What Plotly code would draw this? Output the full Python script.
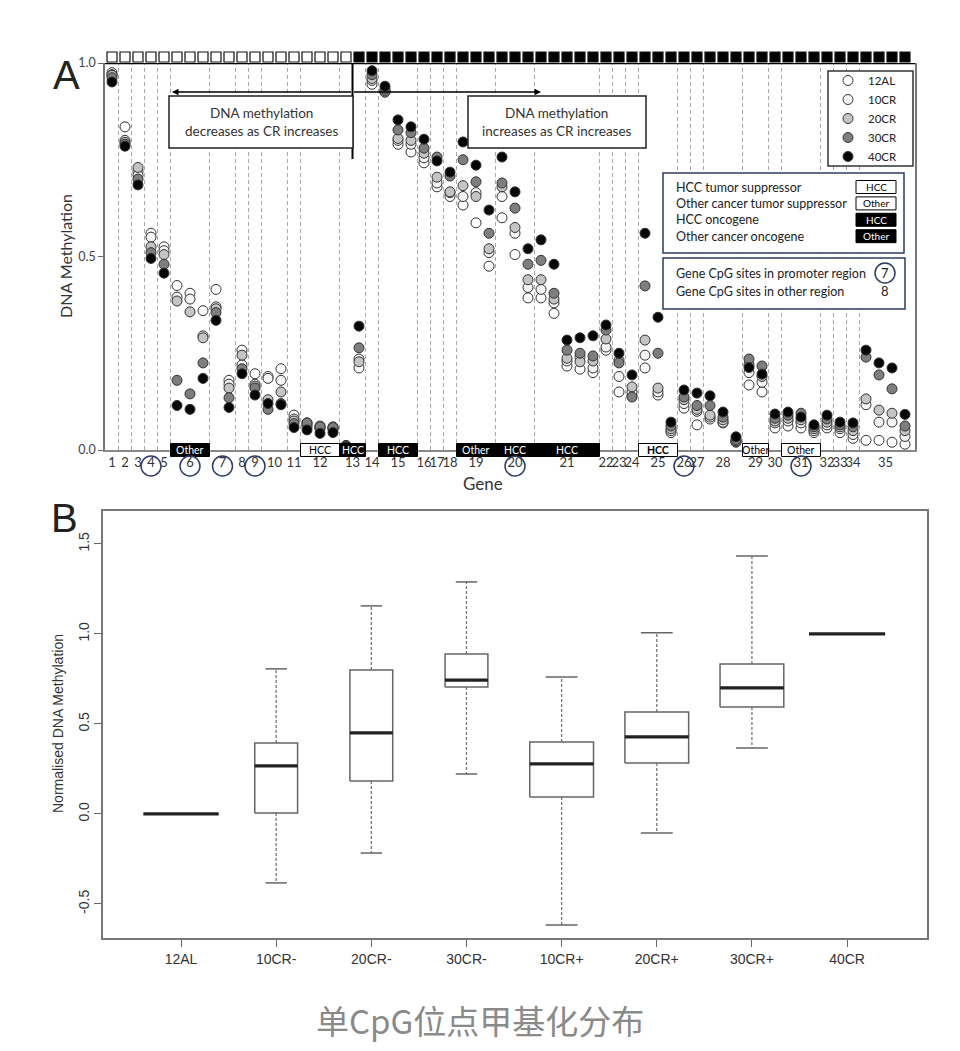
import plotly.graph_objects as go

W, H = 960, 1051

# ---------------- Panel A: methylation of each CpG site, per diet group ----------------
meth_12AL = [0.975, 0.835, 0.72, 0.56, 0.525, 0.425, 0.405, 0.36, 0.415, 0.18,
             0.258, 0.197, 0.19, 0.21, 0.09, 0.07, 0.062, 0.06, 0.012, 0.212,
             0.945, 0.925, 0.79, 0.77, 0.742, 0.68, 0.655, 0.633, 0.587, 0.475,
             0.60, 0.505, 0.393, 0.393, 0.353, 0.217, 0.209, 0.20, 0.258, 0.15,
             0.14, 0.212, 0.142, 0.045, 0.108, 0.065, 0.08, 0.07, 0.02, 0.168,
             0.15, 0.057, 0.062, 0.057, 0.045, 0.057, 0.045, 0.03, 0.025, 0.025,
             0.02, 0.015]
meth_10CR = [0.97, 0.80, 0.71, 0.55, 0.515, 0.395, 0.39, 0.295, 0.37, 0.17,
             0.22, 0.17, 0.185, 0.18, 0.08, 0.065, 0.058, 0.055, 0.01, 0.235,
             0.955, 0.925, 0.80, 0.79, 0.755, 0.69, 0.665, 0.655, 0.665, 0.51,
             0.655, 0.56, 0.42, 0.415, 0.38, 0.23, 0.24, 0.212, 0.266, 0.19,
             0.15, 0.245, 0.15, 0.05, 0.12, 0.10, 0.085, 0.072, 0.022, 0.20,
             0.175, 0.07, 0.075, 0.07, 0.05, 0.065, 0.055, 0.04, 0.117, 0.072,
             0.072, 0.035]
meth_20CR = [0.968, 0.795, 0.73, 0.525, 0.505, 0.385, 0.357, 0.29, 0.365, 0.16,
             0.245, 0.165, 0.13, 0.15, 0.075, 0.06, 0.055, 0.055, 0.01, 0.228,
             0.96, 0.928, 0.805, 0.80, 0.767, 0.705, 0.667, 0.683, 0.655, 0.52,
             0.68, 0.575, 0.44, 0.44, 0.39, 0.237, 0.228, 0.23, 0.287, 0.232,
             0.163, 0.284, 0.16, 0.055, 0.13, 0.105, 0.09, 0.078, 0.024, 0.22,
             0.19, 0.075, 0.082, 0.078, 0.055, 0.072, 0.06, 0.05, 0.132, 0.103,
             0.095, 0.05]
meth_30CR = [0.962, 0.79, 0.70, 0.51, 0.48, 0.18, 0.145, 0.225, 0.355, 0.135,
             0.21, 0.16, 0.105, 0.12, 0.068, 0.07, 0.06, 0.058, 0.01, 0.264,
             0.97, 0.932, 0.827, 0.82, 0.78, 0.757, 0.708, 0.75, 0.693, 0.56,
             0.69, 0.625, 0.48, 0.49, 0.405, 0.258, 0.25, 0.243, 0.31, 0.225,
             0.137, 0.424, 0.25, 0.062, 0.137, 0.115, 0.115, 0.085, 0.027, 0.235,
             0.217, 0.082, 0.09, 0.095, 0.06, 0.08, 0.065, 0.06, 0.24, 0.194,
             0.158, 0.062]
meth_40CR = [0.951, 0.785, 0.685, 0.495, 0.457, 0.115, 0.105, 0.185, 0.335, 0.11,
             0.197, 0.142, 0.12, 0.117, 0.058, 0.052, 0.043, 0.045, 0.008, 0.32,
             0.98, 0.94, 0.853, 0.835, 0.803, 0.747, 0.718, 0.796, 0.736, 0.62,
             0.757, 0.667, 0.52, 0.543, 0.48, 0.284, 0.29, 0.295, 0.323, 0.25,
             0.194, 0.56, 0.343, 0.072, 0.155, 0.147, 0.14, 0.098, 0.034, 0.213,
             0.196, 0.093, 0.098, 0.085, 0.065, 0.09, 0.072, 0.07, 0.258, 0.225,
             0.212, 0.092]

diet_groups = ["12AL", "10CR", "20CR", "30CR", "40CR"]
n_sites = len(meth_12AL)
n_decreasing = 19  # leading sites where methylation falls as CR rises

# CpG site span of each gene (site indices, inclusive)
gene_first_site = [0, 1, 2, 3, 4, 5, 8, 10, 11, 12, 14, 15, 18, 20, 21, 24, 25, 26,
                   27, 30, 33, 38, 39, 40, 41, 44, 45, 46, 49, 51, 52, 55, 56, 57, 58]
gene_last_site = [0, 1, 2, 3, 4, 7, 9, 10, 11, 13, 14, 17, 19, 20, 23, 24, 25, 26,
                  29, 32, 37, 38, 39, 40, 43, 44, 45, 48, 50, 51, 54, 55, 56, 57, 61]
gene_class = {6: ("Other", "oncogene"), 12: ("HCC", "suppressor"), 13: ("HCC", "oncogene"),
              15: ("HCC", "oncogene"), 19: ("Other", "oncogene"), 20: ("HCC", "oncogene"),
              21: ("HCC", "oncogene"), 25: ("HCC", "suppressor"), 29: ("Other", "suppressor"),
              31: ("Other", "suppressor")}
promoter_genes = [4, 6, 7, 9, 20, 26, 31]

# ---------------- Panel B: normalised methylation boxplots ----------------
box_groups = ["12AL", "10CR-", "20CR-", "30CR-", "10CR+", "20CR+", "30CR+", "40CR"]
box_lower = [0.0, -0.383, -0.217, 0.222, -0.617, -0.106, 0.367, 1.0]
box_q1 = [0.0, 0.005, 0.183, 0.706, 0.094, 0.283, 0.594, 1.0]
box_median = [0.0, 0.267, 0.45, 0.744, 0.278, 0.428, 0.70, 1.0]
box_q3 = [0.0, 0.394, 0.80, 0.889, 0.40, 0.567, 0.833, 1.0]
box_upper = [0.0, 0.806, 1.156, 1.289, 0.761, 1.006, 1.433, 1.0]
box_width = [0.79, 0.45, 0.45, 0.45, 0.67, 0.67, 0.67, 0.8]

FONT_A = "Lato"
FONT_B = "Liberation Sans"
NAVY = "#2d3b66"


def ax_x(px):
    """Pixel x in the page -> panel A site coordinate."""
    return (px - 112) / 13


def ax_y(py):
    """Pixel y in the page -> panel A methylation coordinate."""
    return (450 - py) / 387


def paper_x(px):
    return px / W


def paper_y(py):
    return 1 - py / H


fig = go.Figure()

# gene boundaries (dashed)
bx, by = [], []
for last in gene_last_site[:-1]:
    bx += [last + 0.5, last + 0.5, None]
    by += [0, 1, None]
fig.add_trace(go.Scatter(x=bx, y=by, mode="lines", showlegend=False, hoverinfo="skip",
                         line=dict(color="#a8a8a8", width=1, dash="4px,3px")))

# trend squares along the top (own thin axis above panel A)
fig.add_trace(go.Scatter(
    x=list(range(n_sites)), y=[0.5] * n_sites, mode="markers", showlegend=False,
    hoverinfo="skip", cliponaxis=False, xaxis="x", yaxis="y3",
    marker=dict(symbol="square", size=10,
                color=["#ffffff" if i < n_decreasing else "#000000" for i in range(n_sites)],
                line=dict(color="#111", width=1.2))))

fills = ["#ffffff", "#f4f4f4", "#c4c4c4", "#7e7e7e", "#050505"]
for name, vals, fill in zip(diet_groups, [meth_12AL, meth_10CR, meth_20CR, meth_30CR, meth_40CR], fills):
    fig.add_trace(go.Scatter(
        x=list(range(n_sites)), y=vals, mode="markers", name=name, cliponaxis=False,
        marker=dict(size=10, color=fill, line=dict(color="#333", width=1))))

shapes = []
annotations = []

# sample key frame (legend entries are drawn on top of it)
shapes.append(dict(type="rect", xref="x", yref="y", x0=ax_x(828), x1=ax_x(913), y0=ax_y(166), y1=ax_y(71),
                   fillcolor="#fff", line=dict(color="#333", width=1.5)))

# gene class boxes on the x axis
for g, (label, kind) in gene_class.items():
    x0 = gene_first_site[g - 1] - 0.5
    x1 = gene_last_site[g - 1] + 0.5
    dark = kind == "oncogene"
    shapes.append(dict(type="rect", xref="x", yref="paper", x0=x0, x1=x1,
                       y0=paper_y(456.5), y1=paper_y(443.5),
                       fillcolor="#000" if dark else "#fff", line=dict(color="#000", width=1)))
    text = f"<b>{label}</b>" if g == 25 else label
    annotations.append(dict(x=(x0 + x1) / 2, y=0, xref="x", yref="y", text=text, showarrow=False,
                            font=dict(family=FONT_A, size=10.5, color="#fff" if dark else "#000")))

# circles around promoter-region genes
for g in promoter_genes:
    cx = (gene_first_site[g - 1] + gene_last_site[g - 1]) / 2
    shapes.append(dict(type="circle", xref="x", yref="paper", xsizemode="pixel", ysizemode="pixel",
                       xanchor=cx, yanchor=paper_y(466), x0=-10, x1=10, y0=-10, y1=10,
                       line=dict(color=NAVY, width=1.5)))

# top border, split line and arrows
shapes.append(dict(type="line", xref="x", yref="y", x0=ax_x(105), x1=ax_x(915), y0=1, y1=1,
                   line=dict(color="#000", width=2.5)))
shapes.append(dict(type="line", xref="x", yref="y", x0=n_decreasing - 0.5, x1=n_decreasing - 0.5,
                   y0=1, y1=ax_y(159), line=dict(color="#000", width=2)))
for tip in (172, 541):
    annotations.append(dict(x=ax_x(tip), y=ax_y(92), ax=n_decreasing - 0.5, ay=ax_y(92),
                            xref="x", yref="y", axref="x", ayref="y", text="", showarrow=True,
                            arrowhead=2, arrowsize=1, arrowwidth=1.3, arrowcolor="#000"))

# explanatory text boxes
for (left, right), msg in [((169, 353), "DNA methylation<br>decreases as CR increases"),
                           ((468, 646), "DNA methylation<br>increases as CR increases")]:
    shapes.append(dict(type="rect", xref="x", yref="y", x0=ax_x(left), x1=ax_x(right),
                       y0=ax_y(148), y1=ax_y(96), fillcolor="#fff", line=dict(color="#222", width=1.5)))
    annotations.append(dict(x=ax_x((left + right) / 2), y=ax_y(122), xref="x", yref="y", text=msg,
                            showarrow=False, font=dict(family=FONT_A, size=13.5, color="#333")))

# gene class key
shapes.append(dict(type="rect", xref="x", yref="y", x0=ax_x(663), x1=ax_x(904), y0=ax_y(253), y1=ax_y(173),
                   fillcolor="#fff", line=dict(color=NAVY, width=1.5)))
key_rows = [("HCC tumor suppressor", "HCC", False), ("Other cancer tumor suppressor", "Other", False),
            ("HCC oncogene", "HCC", True), ("Other cancer oncogene", "Other", True)]
for i, (desc, tag, dark) in enumerate(key_rows):
    ypx = 187 + i * 16.4
    annotations.append(dict(x=ax_x(674), y=ax_y(ypx), xref="x", yref="y", text=desc, showarrow=False,
                            xanchor="left", font=dict(family=FONT_A, size=12.5, color="#222")))
    shapes.append(dict(type="rect", xref="x", yref="y", x0=ax_x(856), x1=ax_x(896),
                       y0=ax_y(ypx + 6.5), y1=ax_y(ypx - 6.5), fillcolor="#000" if dark else "#fff",
                       line=dict(color="#000", width=1)))
    annotations.append(dict(x=ax_x(876), y=ax_y(ypx), xref="x", yref="y", text=tag, showarrow=False,
                            font=dict(family=FONT_A, size=10, color="#fff" if dark else "#000")))

# CpG region key
shapes.append(dict(type="rect", xref="x", yref="y", x0=ax_x(663), x1=ax_x(905), y0=ax_y(309), y1=ax_y(258),
                   fillcolor="#fff", line=dict(color=NAVY, width=1.5)))
for ypx, desc, num in [(273, "Gene CpG sites in promoter region", "7"),
                       (291, "Gene CpG sites in other region", "8")]:
    annotations.append(dict(x=ax_x(674), y=ax_y(ypx), xref="x", yref="y", text=desc, showarrow=False,
                            xanchor="left", font=dict(family=FONT_A, size=12.5, color="#222")))
    annotations.append(dict(x=ax_x(885), y=ax_y(ypx), xref="x", yref="y", text=num, showarrow=False,
                            font=dict(family=FONT_A, size=13, color="#222")))
shapes.append(dict(type="circle", xref="x", yref="y", x0=ax_x(875), x1=ax_x(895),
                   y0=ax_y(283), y1=ax_y(263), line=dict(color=NAVY, width=1.5)))

# ---------------- panel B drawing ----------------
box_x, box_y, med_x, med_y, wh_x, wh_y, cap_x, cap_y = [], [], [], [], [], [], [], []
for i in range(len(box_groups)):
    h = box_width[i] / 2
    box_x += [i - h, i + h, i + h, i - h, i - h, None]
    box_y += [box_q1[i], box_q1[i], box_q3[i], box_q3[i], box_q1[i], None]
    med_x += [i - h, i + h, None]
    med_y += [box_median[i], box_median[i], None]
    wh_x += [i, i, None, i, i, None]
    wh_y += [box_q3[i], box_upper[i], None, box_q1[i], box_lower[i], None]
    cap_x += [i - h / 2, i + h / 2, None, i - h / 2, i + h / 2, None]
    cap_y += [box_upper[i], box_upper[i], None, box_lower[i], box_lower[i], None]

for xs, ys, line in [(wh_x, wh_y, dict(color="#777", width=1.3, dash="3px,2px")),
                     (cap_x, cap_y, dict(color="#666", width=1.5)),
                     (box_x, box_y, dict(color="#666", width=1.5)),
                     (med_x, med_y, dict(color="#222", width=3.2))]:
    fig.add_trace(go.Scatter(x=xs, y=ys, mode="lines", line=line, showlegend=False,
                             hoverinfo="skip", xaxis="x2", yaxis="y2"))

# titles and panel letters
page_text = [
    (66, 75, "A", 0, dict(family=FONT_B, size=40, color="#222")),
    (64, 518, "B", 0, dict(family=FONT_B, size=40, color="#222")),
    (65, 256, "DNA Methylation", -90, dict(family=FONT_A, size=16, color="#333")),
    (483, 483, "Gene", 0, dict(family=FONT_A, size=17, color="#333")),
    (58, 724, "Normalised DNA Methylation", -90, dict(family=FONT_B, size=14, color="#333")),
    (480, 1020, "单CpG位点甲基化分布", 0, dict(family="Noto Sans CJK SC", size=33, color="#8a8a8a")),
]
for px, py, text, angle, font in page_text:
    annotations.append(dict(x=paper_x(px), y=paper_y(py), xref="paper", yref="paper", text=text,
                            textangle=angle, showarrow=False, xanchor="center", yanchor="middle",
                            font=font))

gene_centers = [(a + b) / 2 for a, b in zip(gene_first_site, gene_last_site)]

fig.update_layout(
    width=W, height=H, margin=dict(l=0, r=0, t=0, b=0, autoexpand=False),
    paper_bgcolor="#fff", plot_bgcolor="rgba(0,0,0,0)",
    shapes=shapes, annotations=annotations,
    showlegend=True,
    legend=dict(x=paper_x(828), y=paper_y(66), xanchor="left", yanchor="top",
                borderwidth=0, bgcolor="rgba(0,0,0,0)", itemwidth=30,
                font=dict(family=FONT_A, size=11.5, color="#222"), tracegroupgap=0),
    xaxis=dict(domain=[paper_x(105), paper_x(915)], range=[ax_x(105), ax_x(915)], anchor="y",
               tickvals=gene_centers, ticktext=[str(g) for g in range(1, len(gene_centers) + 1)],
               tickangle=0, automargin=False,
               tickfont=dict(family=FONT_A, size=13, color="#333"), ticks="",
               showline=True, linecolor="#888", linewidth=1.5, showgrid=False, zeroline=False),
    yaxis=dict(domain=[paper_y(450), paper_y(63)], range=[0, 1], anchor="x", automargin=False,
               tickvals=[0, 0.5, 1], ticktext=["0.0", "0.5", "1.0"],
               tickfont=dict(family=FONT_A, size=12.5, color="#444"), ticks="outside", ticklen=5,
               tickcolor="#666", showline=True, mirror=True, linecolor="#777", linewidth=1.5,
               showgrid=False, zeroline=False),
    yaxis3=dict(domain=[paper_y(64), paper_y(50)], range=[0, 1], anchor="x", visible=False,
                showgrid=False, zeroline=False, fixedrange=True),
    xaxis2=dict(domain=[paper_x(103), paper_x(927)], range=[-0.82, 7.84], anchor="y2",
                tickvals=list(range(len(box_groups))), ticktext=box_groups, automargin=False,
                tickfont=dict(family=FONT_B, size=14, color="#333"), ticks="outside", ticklen=7,
                tickcolor="#666", showline=True, mirror=True, linecolor="#777", linewidth=1.5,
                showgrid=False, zeroline=False),
    yaxis2=dict(domain=[paper_y(938), paper_y(511)], range=[-0.689, 1.683], anchor="x2",
                tickvals=[-0.5, 0, 0.5, 1, 1.5], ticktext=["-0.5", "0.0", "0.5", "1.0", "1.5"],
                tickangle=-90, tickfont=dict(family=FONT_B, size=14, color="#333"), automargin=False,
                ticks="outside", ticklen=7, tickcolor="#666", showline=True, mirror=True,
                linecolor="#777", linewidth=1.5, showgrid=False, zeroline=False),
)

fig.write_html("out.html", config={"displayModeBar": False},
               post_script="document.body.style.margin = '0';")
